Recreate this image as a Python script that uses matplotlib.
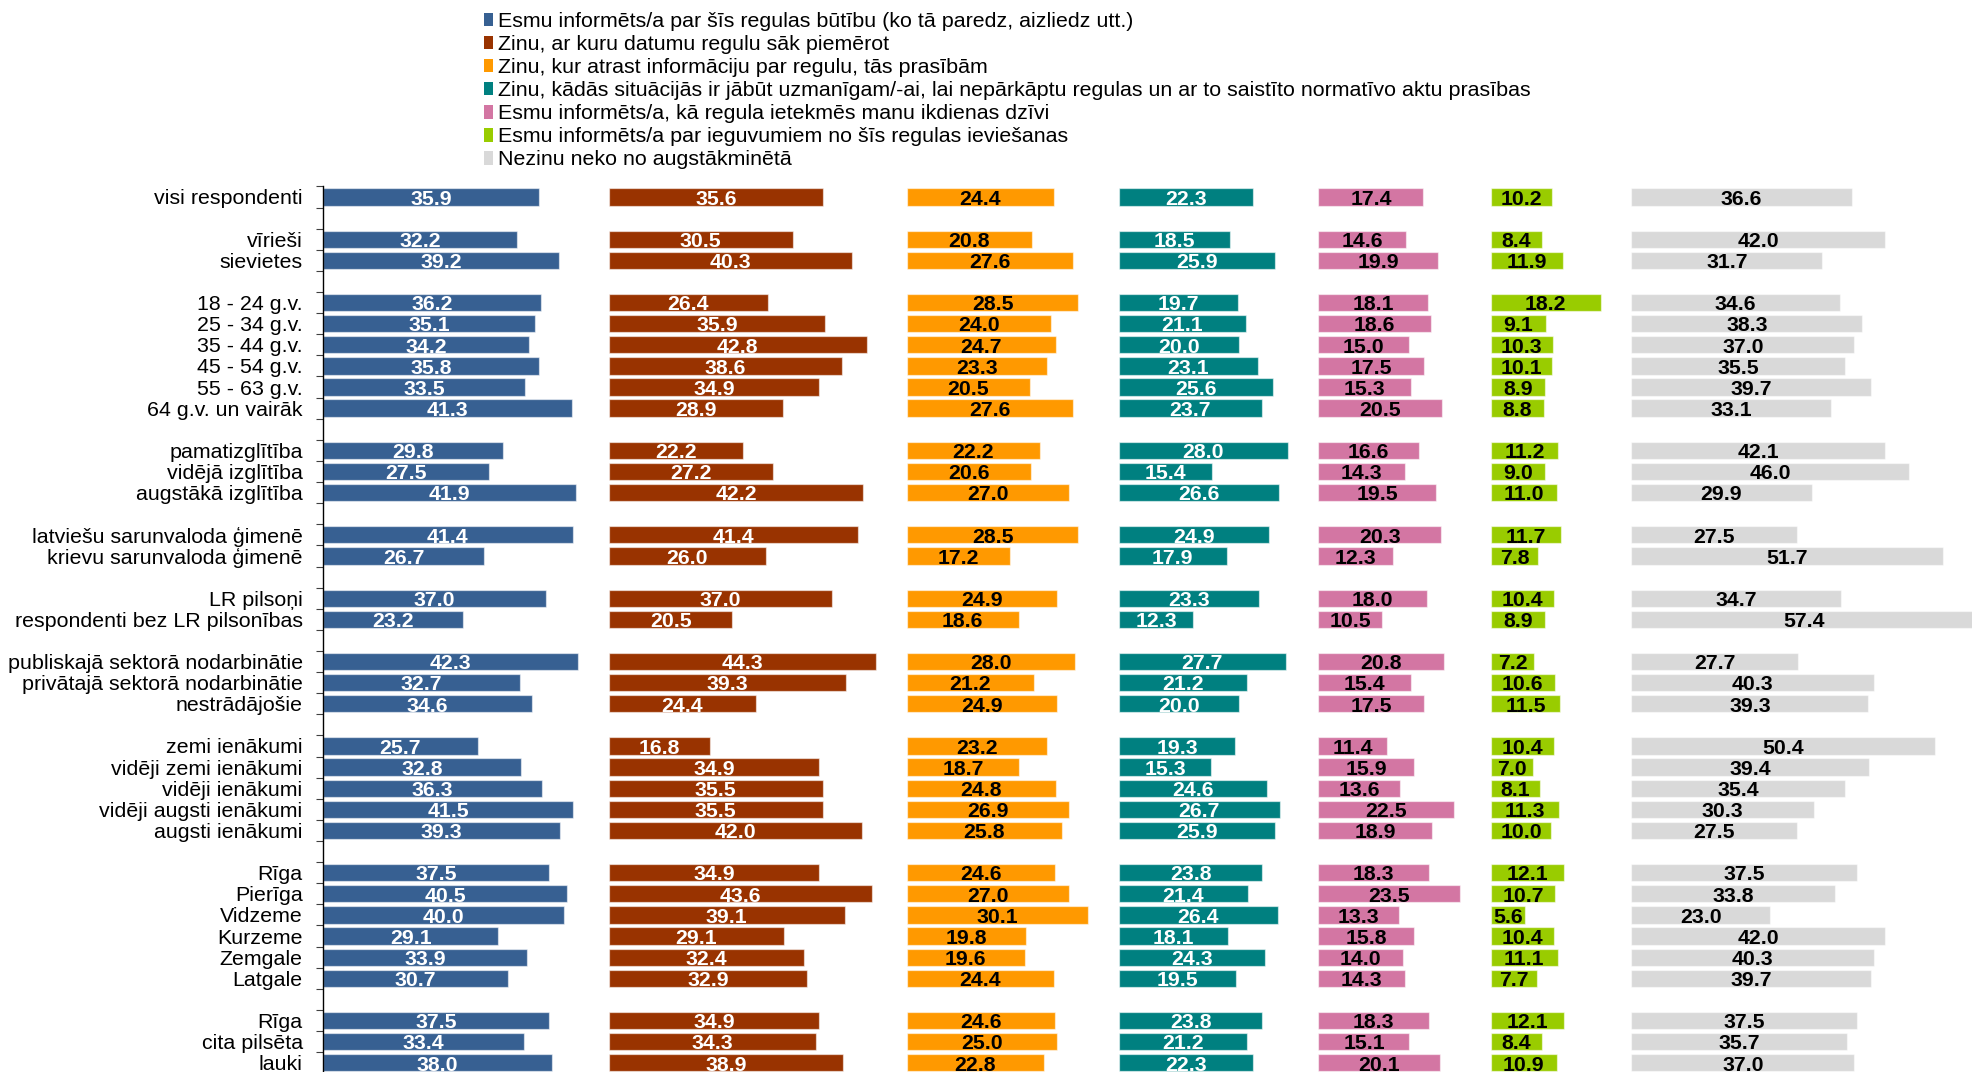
import matplotlib
matplotlib.use('Agg')
import matplotlib.pyplot as plt
from matplotlib.patches import Patch
import numpy as np

plt.rcParams['font.family'] = ['Liberation Sans', 'DejaVu Sans']

# ---------------- data ----------------
categories = [
    'visi respondenti',
    'vīrieši', 'sievietes',
    '18 - 24 g.v.', '25 - 34 g.v.', '35 - 44 g.v.', '45 - 54 g.v.', '55 - 63 g.v.', '64 g.v. un vairāk',
    'pamatizglītība', 'vidējā izglītība', 'augstākā izglītība',
    'latviešu sarunvaloda ģimenē', 'krievu sarunvaloda ģimenē',
    'LR pilsoņi', 'respondenti bez LR pilsonības',
    'publiskajā sektorā nodarbinātie', 'privātajā sektorā nodarbinātie', 'nestrādājošie',
    'zemi ienākumi', 'vidēji zemi ienākumi', 'vidēji ienākumi', 'vidēji augsti ienākumi', 'augsti ienākumi',
    'Rīga', 'Pierīga', 'Vidzeme', 'Kurzeme', 'Zemgale', 'Latgale',
    'Rīga', 'cita pilsēta', 'lauki',
]
group_sizes = [1, 2, 6, 3, 2, 2, 3, 5, 6, 3]

series_names = [
    'Esmu informēts/a par šīs regulas būtību (ko tā paredz, aizliedz utt.)',
    'Zinu, ar kuru datumu regulu sāk piemērot',
    'Zinu, kur atrast informāciju par regulu, tās prasībām',
    'Zinu, kādās situācijās ir jābūt uzmanīgam/-ai, lai nepārkāptu regulas un ar to saistīto normatīvo aktu prasības',
    'Esmu informēts/a, kā regula ietekmēs manu ikdienas dzīvi',
    'Esmu informēts/a par ieguvumiem no šīs regulas ieviešanas',
    'Nezinu neko no augstākminētā',
]

s1 = [35.9, 32.2, 39.2, 36.2, 35.1, 34.2, 35.8, 33.5, 41.3, 29.8, 27.5, 41.9, 41.4, 26.7, 37.0, 23.2,
      42.3, 32.7, 34.6, 25.7, 32.8, 36.3, 41.5, 39.3, 37.5, 40.5, 40.0, 29.1, 33.9, 30.7, 37.5, 33.4, 38.0]
s2 = [35.6, 30.5, 40.3, 26.4, 35.9, 42.8, 38.6, 34.9, 28.9, 22.2, 27.2, 42.2, 41.4, 26.0, 37.0, 20.5,
      44.3, 39.3, 24.4, 16.8, 34.9, 35.5, 35.5, 42.0, 34.9, 43.6, 39.1, 29.1, 32.4, 32.9, 34.9, 34.3, 38.9]
s3 = [24.4, 20.8, 27.6, 28.5, 24.0, 24.7, 23.3, 20.5, 27.6, 22.2, 20.6, 27.0, 28.5, 17.2, 24.9, 18.6,
      28.0, 21.2, 24.9, 23.2, 18.7, 24.8, 26.9, 25.8, 24.6, 27.0, 30.1, 19.8, 19.6, 24.4, 24.6, 25.0, 22.8]
s4 = [22.3, 18.5, 25.9, 19.7, 21.1, 20.0, 23.1, 25.6, 23.7, 28.0, 15.4, 26.6, 24.9, 17.9, 23.3, 12.3,
      27.7, 21.2, 20.0, 19.3, 15.3, 24.6, 26.7, 25.9, 23.8, 21.4, 26.4, 18.1, 24.3, 19.5, 23.8, 21.2, 22.3]
s5 = [17.4, 14.6, 19.9, 18.1, 18.6, 15.0, 17.5, 15.3, 20.5, 16.6, 14.3, 19.5, 20.3, 12.3, 18.0, 10.5,
      20.8, 15.4, 17.5, 11.4, 15.9, 13.6, 22.5, 18.9, 18.3, 23.5, 13.3, 15.8, 14.0, 14.3, 18.3, 15.1, 20.1]
s6 = [10.2, 8.4, 11.9, 18.2, 9.1, 10.3, 10.1, 8.9, 8.8, 11.2, 9.0, 11.0, 11.7, 7.8, 10.4, 8.9,
      7.2, 10.6, 11.5, 10.4, 7.0, 8.1, 11.3, 10.0, 12.1, 10.7, 5.6, 10.4, 11.1, 7.7, 12.1, 8.4, 10.9]
s7 = [36.6, 42.0, 31.7, 34.6, 38.3, 37.0, 35.5, 39.7, 33.1, 42.1, 46.0, 29.9, 27.5, 51.7, 34.7, 57.4,
      27.7, 40.3, 39.3, 50.4, 39.4, 35.4, 30.3, 27.5, 37.5, 33.8, 23.0, 42.0, 40.3, 39.7, 37.5, 35.7, 37.0]
series = [s1, s2, s3, s4, s5, s6, s7]

colors = ['#376092', '#993300', '#FF9900', '#008080', '#D376A3', '#99CC00', '#D9D9D9']
text_colors = ['white', 'white', 'black', 'white', 'black', 'black', 'black']

# ---------------- layout ----------------
W, H = 1972, 1072
fig = plt.figure(figsize=(W / 100, H / 100), dpi=100)
ax_left = 323 / W
ax_top = 1 - 186.4 / H
ax_bottom = 1 - 1073.3 / H
ax = fig.add_axes([ax_left, ax_bottom, 1 - ax_left, ax_top - ax_bottom])

rows = []
r = 0
for g in group_sizes:
    for _ in range(g):
        rows.append(r)
        r += 1
    r += 1
n_rows = r - 1
rows = np.array(rows)

gap = 5.1
offset = 0.0
for vals, c, tc in zip(series, colors, text_colors):
    vals = np.array(vals)
    ax.barh(rows, vals, left=offset, height=0.82, color=c,
            edgecolor=(1, 1, 1, 0.55), linewidth=0.9, zorder=2)
    for y, v in zip(rows, vals):
        ax.annotate(f'{v:.1f}', xy=(offset + v / 2, y), xytext=(0, -5.6),
                    textcoords='offset points', ha='center', va='baseline',
                    fontsize=15.3, fontweight='bold', color=tc, zorder=3,
                    annotation_clip=False)
    offset += vals.max() + gap

ax.set_xlim(0, 273.5)
ax.set_ylim(n_rows - 0.5, -0.5)

ax.set_yticks(rows)
ax.set_yticklabels(categories, fontsize=15.4)
ax.set_yticks(np.arange(-0.5, n_rows, 1.0), minor=True)
ax.tick_params(axis='y', which='major', length=0, pad=14.6)
ax.tick_params(axis='y', which='minor', length=5, width=0.8, color='#404040')
ax.set_xticks([])
for s in ['top', 'right', 'bottom']:
    ax.spines[s].set_visible(False)
ax.spines['left'].set_linewidth(1.0)
ax.spines['left'].set_color('black')

handles = [Patch(facecolor=c, edgecolor='none') for c in colors]
fig.legend(handles, series_names, loc='upper left',
           bbox_to_anchor=(484 / W, 1 - 12 / H), frameon=False,
           borderpad=0, borderaxespad=0, handlelength=0.4, handleheight=0.6,
           handletextpad=0.25, labelspacing=0.19, fontsize=15.4)

fig.savefig('out.png', dpi=100)
